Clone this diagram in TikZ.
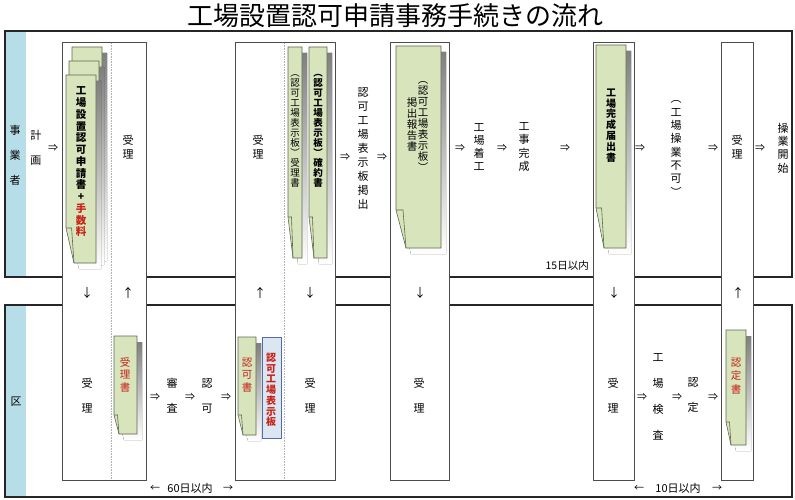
\documentclass[tikz,border=0pt]{standalone}
\usepackage{fontspec}
\setmainfont{Noto Sans CJK JP}
\usetikzlibrary{arrows}

\definecolor{docgreen}{RGB}{215,228,188}
\definecolor{docline}{RGB}{95,105,80}
\definecolor{bandblue}{RGB}{183,221,232}
\definecolor{txtred}{RGB}{200,35,25}
\definecolor{plateblue}{RGB}{220,230,242}
\definecolor{plateline}{RGB}{80,110,165}
\definecolor{shade}{RGB}{128,128,128}

% L, T, R, B, fold y, fold width
\newcommand{\drawdoc}[6]{%
  \fill[shade,shift={(5,6)}] (#1,#2) -- (#3,#2) -- (#3,#4) -- (#1+#6,#4) -- (#1,#5) -- cycle;
  \filldraw[doc] (#1,#2) -- (#3,#2) -- (#3,#4) -- (#1+#6,#4) -- (#1,#5) -- cycle;
  \draw[doc,fill=none] (#1,#5) -- (#1+0.7*#6,#5) -- (#1+#6,#4);
}
\newcommand{\rd}[1]{\textcolor{txtred}{#1}}

\begin{document}
\begin{tikzpicture}[x=1pt,y=-1pt,
    lane/.style={draw=black!85,line width=1.1pt},
    col/.style={fill=white,draw=black!70,line width=0.7pt},
    split/.style={draw=black!30,densely dotted,line width=0.6pt},
    doc/.style={fill=docgreen,draw=docline,line width=0.6pt},
    lab/.style={inner sep=0pt,align=center,font=\fontsize{11}{14}\selectfont},
    lab wide/.style={lab,font=\fontsize{11}{25}\selectfont},
    lab mid/.style={lab,font=\fontsize{11}{13.3}\selectfont},
    doctext/.style={inner sep=0pt,align=center,font=\fontsize{10.5}{11}\selectfont},
    arr/.style={inner sep=0pt,font=\fontsize{10}{12}\selectfont}]

    \useasboundingbox (0,0) rectangle (795,500);

    \node (0) at (395,15.5) {\fontsize{26}{26}\selectfont 工場設置認可申請事務手続きの流れ};
    \draw[line width=1.6pt] (185,30.6) -- (604,30.6);

    % lanes
    \fill[bandblue] (5,31) rectangle (26,277);
    \fill[bandblue] (5,305) rectangle (26,497);
    \draw[lane] (5,31) rectangle (792,277);
    \draw[lane] (5,305) rectangle (792,497);

    % columns
    \foreach \l/\r in {62/146,235/335,390/449,593/634,721/753}
        \draw[col] (\l,42) rectangle (\r,480);
    \foreach \x in {111,284}
        \draw[split] (\x,43) -- (\x,479);

    % documents
    \drawdoc{72}{47}{102}{255}{222}{7}
    \drawdoc{69}{61}{99}{259}{225}{7}
    \drawdoc{66}{75}{96}{263}{228}{8}
    \drawdoc{288}{47}{302}{258}{217}{5}
    \drawdoc{309}{47}{327}{258}{217}{5}
    \drawdoc{396}{46}{441}{248}{210}{10}
    \drawdoc{596}{45}{626}{248}{208}{8}
    \drawdoc{114}{336}{137}{434}{415}{5}
    \drawdoc{238}{337}{256}{435}{415}{5}
    \filldraw[fill=plateblue,draw=plateline,line width=0.7pt] (262,337) rectangle (281,438);
    \drawdoc{726}{330}{746}{445}{422}{5}

    % jigyosha
    \node[lab wide] (1) at (15,155) {事\\業\\者};
    \node[lab wide] (2) at (36,148) {計\\画};
    \node[arr] (3) at (53,148) {⇒};
    \node[doctext,font=\bfseries\fontsize{10.5}{11.75}\selectfont] (4) at (81,162)
        {工\\場\\設\\置\\認\\可\\申\\請\\書\\+\\\rd{手}\\\rd{数}\\\rd{料}};
    \node[lab] (5) at (128,147) {受\\理};
    \node[lab] (6) at (258,147) {受\\理};
    \node[doctext,font=\fontsize{9.5}{10}\selectfont] (7) at (295,131)
        {︵\\認\\可\\工\\場\\表\\示\\板\\︶\\受\\理\\書};
    \node[doctext,font=\bfseries\fontsize{9.5}{10}\selectfont] (8) at (318,131)
        {︵\\認\\可\\工\\場\\表\\示\\板\\︶\\確\\約\\書};
    \node[arr] (9) at (345,157) {⇒};
    \node[lab] (10) at (363,149) {認\\可\\工\\場\\表\\示\\板\\掲\\出};
    \node[arr] (11) at (382,157) {⇒};
    \node[doctext] (12) at (423,127) {︵\\認\\可\\工\\場\\表\\示\\板\\︶};
    \node[doctext] (13) at (412,125) {掲\\出\\報\\告\\書};
    \node[arr] (14) at (460,148) {⇒};
    \node[lab mid] (15) at (479,147) {工\\場\\着\\工};
    \node[arr] (16) at (502,148) {⇒};
    \node[lab mid] (17) at (524,147) {工\\事\\完\\成};
    \node[arr] (18) at (565,148) {⇒};
    \node[arr,anchor=east,font=\fontsize{10.5}{12}\selectfont] (19) at (589,266) {15日以内};
    \node[doctext,font=\bfseries\fontsize{10}{10.8}\selectfont] (20) at (611,125.5)
        {工\\場\\完\\成\\届\\出\\書};
    \node[arr] (21) at (640,148) {⇒};
    \node[lab mid] (22) at (676,148.5) {︵\\工\\場\\操\\業\\不\\可\\︶};
    \node[arr] (23) at (713,148) {⇒};
    \node[lab] (24) at (737,147) {受\\理};
    \node[arr] (25) at (760,148) {⇒};
    \node[lab mid] (26) at (783,148) {操\\業\\開\\始};

    % between the lanes
    \foreach \x/\s [count=\i from 27] in {87/↓,128/↑,260/↑,310/↓,420/↓,614/↓,738/↑}
        \node[arr,font=\fontsize{12}{12}\selectfont] (\i) at (\x,293) {\s};

    % ku
    \node[lab] (34) at (16,402) {区};
    \node[lab wide] (35) at (87,395.5) {受\\理};
    \node[doctext,text=txtred,font=\fontsize{10.5}{12.5}\selectfont] (36) at (125,375) {受\\理\\書};
    \node[arr] (37) at (155,397) {⇒};
    \node[lab wide] (38) at (172,395.5) {審\\査};
    \node[arr] (39) at (190,397) {⇒};
    \node[lab wide] (40) at (207,395.5) {認\\可};
    \node[arr] (41) at (226,397) {⇒};
    \node[doctext,text=txtred,font=\fontsize{10.5}{12.5}\selectfont] (42) at (247,375) {認\\可\\書};
    \node[doctext,text=txtred,font=\bfseries\fontsize{10}{10.7}\selectfont] (43) at (271,390)
        {認\\可\\工\\場\\表\\示\\板};
    \node[lab wide] (44) at (310,395.5) {受\\理};
    \node[lab wide] (45) at (419,395.5) {受\\理};
    \node[lab wide] (46) at (613,395.5) {受\\理};
    \node[arr] (47) at (642,397) {⇒};
    \node[lab,font=\fontsize{11}{26}\selectfont] (48) at (658,396.5) {工\\場\\検\\査};
    \node[arr] (49) at (677,397) {⇒};
    \node[lab wide] (50) at (693,395.5) {認\\定};
    \node[arr] (51) at (713,397) {⇒};
    \node[doctext,text=txtred,font=\fontsize{10.5}{13.5}\selectfont] (52) at (736,376) {認\\定\\書};
    \node[arr] (53) at (155,488) {←};
    \node[lab] (54) at (190,488) {60日以内};
    \node[arr] (55) at (228,488) {→};
    \node[arr] (56) at (639,488) {←};
    \node[lab] (57) at (678,488) {10日以内};
    \node[arr] (58) at (717,488) {→};
\end{tikzpicture}
\end{document}
